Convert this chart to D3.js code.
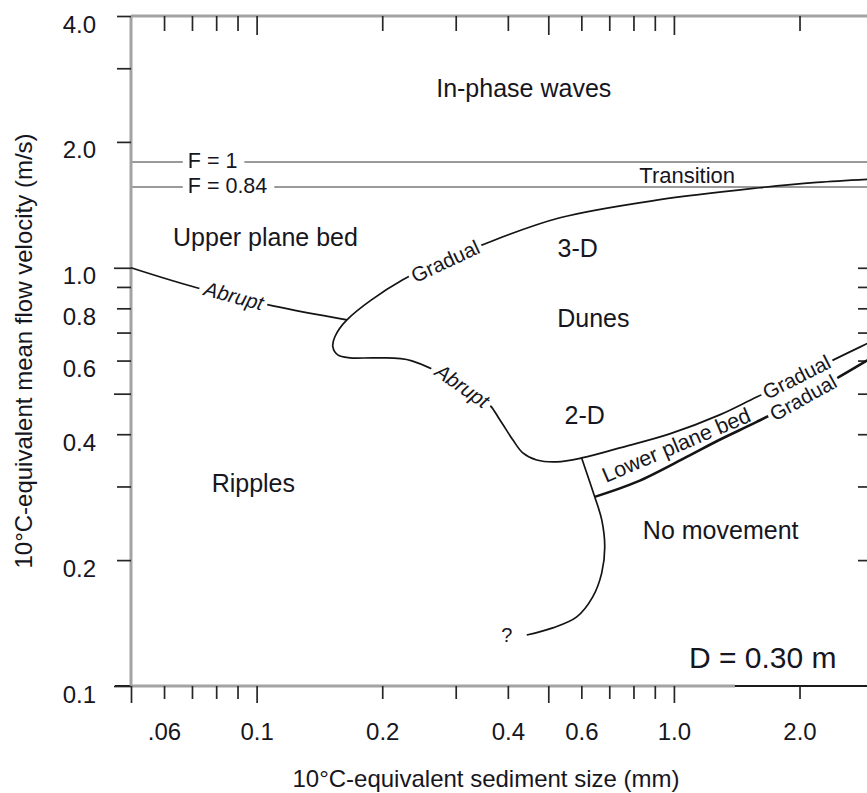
<!DOCTYPE html>
<html><head><meta charset="utf-8">
<script src="https://cdn.jsdelivr.net/npm/d3@7"></script>
<style>
html,body{margin:0;padding:0;background:#fff;}
svg{display:block;}
text{font-family:"Liberation Sans",Arial,Helvetica,sans-serif;fill:#16161e;}
</style></head><body>
<svg id="chart" width="867" height="793"></svg>
<script>
// ---------- data ----------
const sizeDomain = [0.05, 3.0];          // sediment size (mm)
const velocityDomain = [0.1, 4.0];       // mean flow velocity (m/s)

const xMajorTicks = [0.1, 0.5, 1.0];
const xMinorTicks = [0.06, 0.07, 0.08, 0.09, 0.2, 0.3, 0.4, 0.6, 0.7, 0.8, 0.9, 2.0];
const xTickLabelValues = [0.06, 0.1, 0.2, 0.4, 0.6, 1.0, 2.0];
const xTickLabels = [".06", "0.1", "0.2", "0.4", "0.6", "1.0", "2.0"];

const yMajorTicks = [0.1, 0.5, 1.0];
const yMinorTicks = [0.2, 0.3, 0.4, 0.6, 0.7, 0.8, 0.9, 2.0, 3.0, 4.0];
const yRightTicks = [0.2, 0.3, 0.4, 0.5, 0.6, 0.7, 0.8, 0.9, 1.0];
const yTickLabelValues = [0.1, 0.2, 0.4, 0.6, 0.8, 1.0, 2.0, 4.0];
const yTickLabels = ["0.1", "0.2", "0.4", "0.6", "0.8", "1.0", "2.0", "4.0"];

const froudeValues = [1.79, 1.56];
const froudeLabels = ["F = 1", "F = 0.84"];

// boundary of the dune field: upper (3-D) edge, loop, lower (2-D) edge
const duneBoundary = [
  [3.0, 1.63], [2.2, 1.6], [1.606, 1.554], [0.925, 1.455],
  [0.533, 1.317], [0.358, 1.148],
  [0.224, 0.936], [0.1646, 0.751], [0.154, 0.684], [0.1523, 0.647],
  [0.1565, 0.619], [0.1673, 0.609], [0.194, 0.609], [0.2355, 0.599], [0.358, 0.475],
  [0.3826, 0.433], [0.411, 0.388], [0.4344, 0.361], [0.4692, 0.347], [0.524, 0.3435],
  [0.601, 0.351], [0.742, 0.371], [0.977, 0.4007], [1.287, 0.445], [1.579, 0.491],
  [2.001, 0.548], [2.468, 0.609], [3.0, 0.669]
];
// upper-plane-bed / ripples abrupt boundary
const abruptBoundary = [[0.05, 1.0], [0.0719, 0.896], [0.1094, 0.811], [0.1646, 0.751]];
// ripples / lower-plane-bed / no-movement boundary
const rippleBoundary = [
  [0.601, 0.351], [0.646, 0.2833], [0.6716, 0.2495], [0.6828, 0.215], [0.6716, 0.1864],
  [0.639, 0.1633], [0.585, 0.1463], [0.5126, 0.1377], [0.444, 0.1324]
];
// lower plane bed / no movement boundary
const movementThreshold = [
  [0.646, 0.2833], [0.8145, 0.3076], [1.073, 0.353], [1.287, 0.388], [1.579, 0.428],
  [2.001, 0.483], [2.537, 0.5545], [3.0, 0.612]
];

const regionNames = ["In-phase waves", "Upper plane bed", "3-D", "Dunes", "2-D", "Ripples", "No movement"];
const regionSizes = [0.4367, 0.105, 0.588, 0.641, 0.6114, 0.0982, 1.2945];
const regionVelocities = [2.566, 1.129, 1.062, 0.7225, 0.4233, 0.291, 0.2247];

const lineLabelTexts = ["Gradual", "Abrupt", "Abrupt", "Gradual", "Gradual"];
const lineLabelSizes = [0.2833, 0.0882, 0.311, 1.968, 2.04];
const lineLabelVelocities = [1.0365, 0.857, 0.522, 0.548, 0.489];
const lineLabelAngles = [-25, 15, 35, -27, -29];
const lineLabelItalic = [false, true, true, false, false];

// ---------- drawing ----------
const svg = d3.select("#chart");
const x = d3.scaleLog().domain(sizeDomain).range([131, 873]);
const y = d3.scaleLog().domain(velocityDomain).range([686, 16]);

const TICK = "#262626", FRAME = "#a3a3a3";

// F lines
froudeValues.forEach(v => {
  svg.append("line").attr("x1", x(sizeDomain[0])).attr("x2", x(sizeDomain[1]))
    .attr("y1", y(v)).attr("y2", y(v))
    .attr("stroke", "#9a9a9a").attr("stroke-width", 2);
});

// bottom black axis line (extends left beyond frame)
svg.append("line").attr("x1", x(sizeDomain[0]) - 16).attr("x2", x(sizeDomain[1]))
  .attr("y1", y(0.1)).attr("y2", y(0.1)).attr("stroke", "#1a1a1a").attr("stroke-width", 1.8);

// gray frame
svg.append("line").attr("x1", x(0.05)).attr("x2", x(0.05)).attr("y1", y(4)).attr("y2", y(0.1))
  .attr("stroke", FRAME).attr("stroke-width", 3);
svg.append("line").attr("x1", x(0.05)).attr("x2", x(3.0)).attr("y1", y(4)).attr("y2", y(4))
  .attr("stroke", FRAME).attr("stroke-width", 3);
svg.append("line").attr("x1", x(0.05)).attr("x2", x(1.4)).attr("y1", y(0.1)).attr("y2", y(0.1))
  .attr("stroke", FRAME).attr("stroke-width", 3);

function styleAxis(g) {
  g.select(".domain").remove();
  g.selectAll(".tick line").attr("stroke", TICK).attr("stroke-width", 1.7);
  g.selectAll(".tick text").remove();
}
// left ticks (outward)
svg.append("g").attr("transform", `translate(${x(0.05)},0)`)
  .call(d3.axisLeft(y).tickValues(yMinorTicks).tickSize(14).tickFormat("")).call(styleAxis);
svg.append("g").attr("transform", `translate(${x(0.05)},0)`)
  .call(d3.axisLeft(y).tickValues(yMajorTicks).tickSize(17).tickFormat("")).call(styleAxis);
// right ticks (inward)
svg.append("g").attr("transform", `translate(${x(3.0)},0)`)
  .call(d3.axisLeft(y).tickValues(yRightTicks).tickSize(15).tickFormat("")).call(styleAxis);
// top ticks (inward)
svg.append("g").attr("transform", `translate(0,${y(4)})`)
  .call(d3.axisBottom(x).tickValues(xMinorTicks).tickSize(15).tickFormat("")).call(styleAxis);
svg.append("g").attr("transform", `translate(0,${y(4)})`)
  .call(d3.axisBottom(x).tickValues(xMajorTicks).tickSize(19).tickFormat("")).call(styleAxis);
// bottom ticks (outward)
svg.append("g").attr("transform", `translate(0,${y(0.1)})`)
  .call(d3.axisBottom(x).tickValues(xMinorTicks).tickSize(13).tickFormat("")).call(styleAxis);
svg.append("g").attr("transform", `translate(0,${y(0.1)})`)
  .call(d3.axisBottom(x).tickValues([0.05].concat(xMajorTicks)).tickSize(17).tickFormat("")).call(styleAxis);

// tick labels
const bottomLabels = svg.append("g").attr("transform", `translate(0,${y(0.1)})`)
  .call(d3.axisBottom(x).tickValues(xTickLabelValues).tickSize(0).tickFormat((d, i) => xTickLabels[i]));
bottomLabels.select(".domain").remove();
bottomLabels.selectAll("text").attr("y", 54).attr("dy", 0)
  .style("font-size", "24px").style("font-family", '"Liberation Sans", Arial, sans-serif').attr("fill", "#16161e");

const leftLabels = svg.append("g").attr("transform", `translate(${x(0.05)},0)`)
  .call(d3.axisLeft(y).tickValues(yTickLabelValues).tickSize(0).tickFormat((d, i) => yTickLabels[i]));
leftLabels.select(".domain").remove();
leftLabels.selectAll("text").attr("x", -35).attr("y", 16).attr("dy", 0)
  .style("font-size", "24px").style("font-family", '"Liberation Sans", Arial, sans-serif').attr("fill", "#16161e");

// axis titles
svg.append("text").attr("transform", `translate(32,${(y(4) + y(0.1)) / 2}) rotate(-90)`)
  .attr("text-anchor", "middle").style("font-size", "24px")
  .text("10\u00B0C-equivalent mean flow velocity (m/s)");
svg.append("text").attr("x", 486).attr("y", 787).attr("text-anchor", "middle")
  .style("font-size", "24px").text("10\u00B0C-equivalent sediment size (mm)");

// boundaries
const line = d3.line().x(d => x(d[0])).y(d => y(d[1])).curve(d3.curveCatmullRom.alpha(0.5));
const curves = svg.append("g").attr("fill", "none").attr("stroke", "#141414");
curves.append("path").attr("d", line(duneBoundary)).attr("stroke-width", 1.7);
curves.append("path").attr("d", line(abruptBoundary)).attr("stroke-width", 1.7);
curves.append("path").attr("d", line(rippleBoundary)).attr("stroke-width", 1.7);
curves.append("path").attr("d", line(movementThreshold)).attr("stroke-width", 2.6);

// labels on lines with white gap behind
function gapLabel(txt, cx, cy, angle, size, italic, padL, padR, h, anchor, dy) {
  const g = svg.append("g").attr("transform", `translate(${cx},${cy}) rotate(${angle})`);
  const r = g.append("rect").attr("fill", "#fff");
  const t = g.append("text").attr("text-anchor", anchor).attr("dy", dy)
    .style("font-size", size + "px").style("font-style", italic ? "italic" : "normal").text(txt);
  const bb = t.node().getBBox();
  r.attr("x", bb.x - padL).attr("width", bb.width + padL + padR).attr("y", -h / 2).attr("height", h);
}
lineLabelTexts.forEach((t, i) => {
  gapLabel(t, x(lineLabelSizes[i]), y(lineLabelVelocities[i]), lineLabelAngles[i], 20.5,
    lineLabelItalic[i], 3, 3, 10, "middle", "0.35em");
});
froudeLabels.forEach((t, i) => {
  gapLabel(t, x(0.0684), y(froudeValues[i]), 0, 21.5, false, 5, 7, 8, "start", "0.3em");
});

// Lower plane bed
svg.append("text").attr("transform", `translate(${x(1.0128)},${y(0.377)}) rotate(-23)`)
  .attr("text-anchor", "middle").attr("dy", "0.35em").style("font-size", "21.5px").text("Lower plane bed");
// Transition
svg.append("text").attr("x", x(1.076)).attr("y", y(1.597)).attr("text-anchor", "middle")
  .style("font-size", "22px").text("Transition");
// question mark
svg.append("text").attr("x", x(0.3977)).attr("y", y(0.1274)).attr("text-anchor", "middle")
  .style("font-size", "20px").text("?");

// region labels
regionNames.forEach((n, i) => {
  svg.append("text").attr("x", x(regionSizes[i])).attr("y", y(regionVelocities[i]))
    .attr("text-anchor", "middle").style("font-size", "25px").text(n);
});
// flow depth
svg.append("text").attr("x", x(1.632)).attr("y", y(0.1104)).attr("text-anchor", "middle")
  .style("font-size", "30px").text("D = 0.30 m");
</script>
</body></html>
